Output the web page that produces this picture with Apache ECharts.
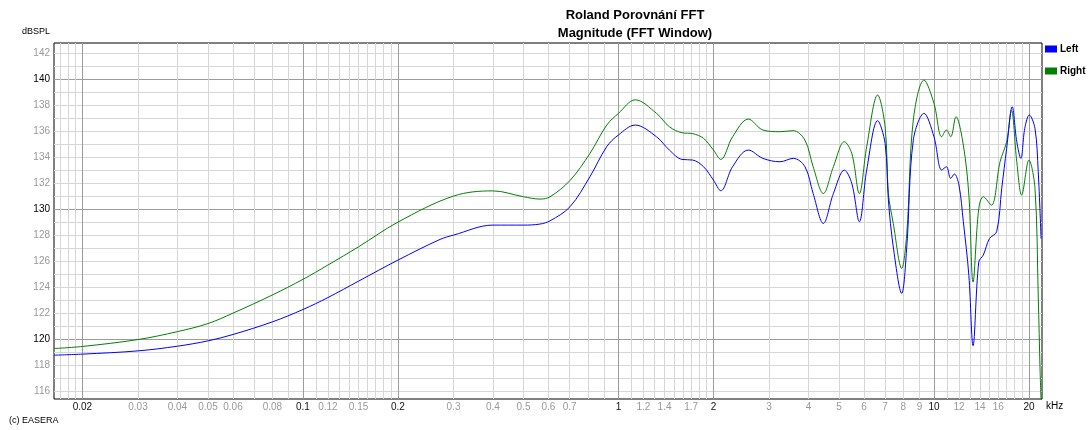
<!DOCTYPE html>
<html><head><meta charset="utf-8">
<script src="https://cdn.jsdelivr.net/npm/echarts@6/dist/echarts.min.js"></script>
<style>html,body{margin:0;padding:0;background:#fff}#chart{width:1090px;height:430px}</style>
</head><body><div id="chart"></div>
<script>
// Frequencies in kHz, levels in dBSPL
const leftFreq = [0.01625,0.02,0.03,0.04,0.05,0.06,0.08,0.1,0.12,0.15,0.2,0.272,0.3,0.4,0.5,0.564,0.607,0.702,0.812,0.918,1.0,1.13,1.32,1.45,1.59,1.72,1.86,2.0,2.11,2.3,2.58,2.87,3.25,3.58,3.9,4.14,4.46,4.8,5.2,5.49,5.8,6.12,6.63,7.0,7.17,7.43,7.9,8.2,8.6,9.3,10.0,10.58,10.95,11.3,11.6,12.0,12.39,12.9,13.3,13.87,14.33,15.0,15.8,16.4,17.0,17.7,18.3,18.85,19.4,20.05,20.9,21.4,21.85];
const leftDb = [118.77,118.85,119.1,119.46,119.87,120.36,121.33,122.28,123.2,124.46,126.08,127.67,128.0,128.77,128.77,128.85,129.1,130.18,132.49,134.8,135.7,136.46,135.56,134.54,133.82,133.77,133.26,132.23,131.41,133.26,134.54,133.9,133.64,133.9,133.26,131.2,128.9,131.2,133.0,131.97,129.03,133.0,136.8,135.05,130.7,127.1,123.52,127.1,135.3,137.36,135.56,133.0,133.26,132.36,132.7,131.85,129.03,124.9,119.5,125.95,126.46,127.74,128.26,131.6,134.67,137.87,135.18,133.9,136.2,137.23,136.2,132.9,127.74];
const rightFreq = [0.01625,0.02,0.03,0.04,0.05,0.06,0.08,0.1,0.12,0.15,0.2,0.3,0.4,0.5,0.564,0.607,0.702,0.812,0.918,1.0,1.13,1.32,1.45,1.59,1.72,1.86,2.0,2.11,2.3,2.58,2.87,3.25,3.58,3.9,4.14,4.46,4.8,5.2,5.49,5.8,6.12,6.63,7.0,7.17,7.43,7.9,8.2,8.6,9.3,10.0,10.58,10.95,11.3,11.74,12.39,12.9,13.3,13.87,14.33,15.2,16.2,17.0,17.6,18.3,18.96,20.0,20.9,21.4,21.7,21.85];
const rightDb = [119.28,119.44,119.97,120.58,121.2,122.0,123.4,124.6,125.7,127.1,129.0,131.0,131.4,130.95,130.77,130.95,132.2,134.28,136.46,137.36,138.4,137.36,136.33,135.87,135.8,135.44,134.54,133.82,135.56,136.92,136.08,135.95,136.03,135.3,133.26,131.2,133.26,135.18,134.28,131.2,134.8,138.77,136.33,131.2,128.9,125.44,128.13,136.85,139.92,138.13,135.56,136.08,135.56,137.1,134.92,131.08,124.4,130.05,130.95,130.3,133.64,135.18,137.6,133.64,131.08,133.77,131.6,123.4,117.5,115.3];

// Tick labels
const xLabelsMinor = [0.03,0.04,0.05,0.06,0.08,0.12,0.15,0.3,0.4,0.5,0.6,0.7,1.2,1.4,1.7,3,4,5,6,7,8,9,12,14,16];
const xLabelsMajor = [0.02,0.1,0.2,1,2,10,20];
const yLabelsMinor = [116,118,122,124,126,128,132,134,136,138,142];
const yLabelsMajor = [120,130,140];
const decades = [0.01,0.1,1,10];

const X_MIN = 0.01625, X_MAX = 22, Y_MIN = 115.4, Y_MAX = 142.77;

// Grid line positions (axis ticks)
const xGridMinor = [];
decades.forEach(d => {
  for (let k = 11; k < 20; k++) xGridMinor.push(+(k * d / 10).toPrecision(6));
  for (let k = 3; k < 10; k++) xGridMinor.push(+(k * d).toPrecision(6));
});
const yGridMinor = [];
for (let v = 116; v <= 142; v++) yGridMinor.push(v);

const fmt = v => String(+(+v).toPrecision(3));
const FONT = 'Liberation Sans, Arial, sans-serif';
const LIGHT = '#d6d6d6', DARK = '#9c9c9c';

const chart = echarts.init(document.getElementById('chart'), null, {renderer: 'canvas'});
chart.setOption({
  animation: false,
  backgroundColor: '#fff',
  title: {
    text: 'Roland Porovnání FFT',
    subtext: 'Magnitude (FFT Window)',
    left: 635, top: 9, padding: 0, itemGap: 5, textAlign: 'center',
    textStyle: {fontFamily: FONT, fontSize: 13, fontWeight: 'bold', color: '#000'},
    subtextStyle: {fontFamily: FONT, fontSize: 13, fontWeight: 'bold', color: '#000'}
  },
  legend: {
    data: ['Left', 'Right'],
    orient: 'vertical', left: 1045, top: 43, padding: 0,
    itemWidth: 12, itemHeight: 7, itemGap: 10, icon: 'rect',
    textStyle: {fontFamily: FONT, fontSize: 10, fontWeight: 'bold', color: '#000', lineHeight: 12, padding: [0,0,0,-2]}
  },
  grid: {left: 54, right: 48, top: 43, bottom: 31, show: true, borderColor: '#000', borderWidth: 1},
  xAxis: [
    {
      type: 'log', logBase: 10, min: X_MIN, max: X_MAX, position: 'bottom',
      axisLine: {show: false}, axisTick: {show: false, customValues: xGridMinor},
      axisLabel: {customValues: xLabelsMinor, formatter: fmt, color: '#999', fontSize: 10, fontFamily: FONT, margin: 3},
      splitLine: {show: true, lineStyle: {color: LIGHT, width: 1}}
    },
    {
      type: 'log', logBase: 10, min: X_MIN, max: X_MAX, position: 'bottom', offset: 0,
      axisLine: {show: false}, axisTick: {show: false, customValues: xLabelsMajor},
      axisLabel: {customValues: xLabelsMajor, formatter: fmt, color: '#111', fontSize: 10, fontFamily: FONT, margin: 3},
      splitLine: {show: true, lineStyle: {color: DARK, width: 1}}
    }
  ],
  yAxis: [
    {
      type: 'value', min: Y_MIN, max: Y_MAX, position: 'left',
      axisLine: {show: false}, axisTick: {show: false, customValues: yGridMinor},
      axisLabel: {customValues: yLabelsMinor, color: '#999', fontSize: 10, fontFamily: FONT, margin: 4},
      splitLine: {show: true, lineStyle: {color: LIGHT, width: 1}}
    },
    {
      type: 'value', min: Y_MIN, max: Y_MAX, position: 'left', offset: 0,
      axisLine: {show: false}, axisTick: {show: false, customValues: yLabelsMajor},
      axisLabel: {customValues: yLabelsMajor, color: '#000', fontSize: 10, fontFamily: FONT, margin: 4},
      splitLine: {show: true, lineStyle: {color: DARK, width: 1}}
    }
  ],
  graphic: [
    {type: 'text', left: 22, top: 27, style: {text: 'dBSPL', fontFamily: FONT, fontSize: 9, fill: '#000'}},
    {type: 'text', left: 1046, top: 401, style: {text: 'kHz', fontFamily: FONT, fontSize: 10, fill: '#000'}},
    {type: 'text', left: 9, top: 416, style: {text: '(c) EASERA', fontFamily: FONT, fontSize: 9, fill: '#000'}}
  ],
  series: [
    {
      name: 'Right', type: 'line', xAxisIndex: 0, yAxisIndex: 0,
      data: rightFreq.map((f, i) => [f, rightDb[i]]),
      showSymbol: false, smooth: 0.35, clip: true,
      lineStyle: {color: '#008000', width: 1}, itemStyle: {color: '#008000'}
    },
    {
      name: 'Left', type: 'line', xAxisIndex: 0, yAxisIndex: 0,
      data: leftFreq.map((f, i) => [f, leftDb[i]]),
      showSymbol: false, smooth: 0.35, clip: true,
      lineStyle: {color: '#0000ff', width: 1}, itemStyle: {color: '#0000ff'}
    }
  ]
});
</script>
</body></html>
